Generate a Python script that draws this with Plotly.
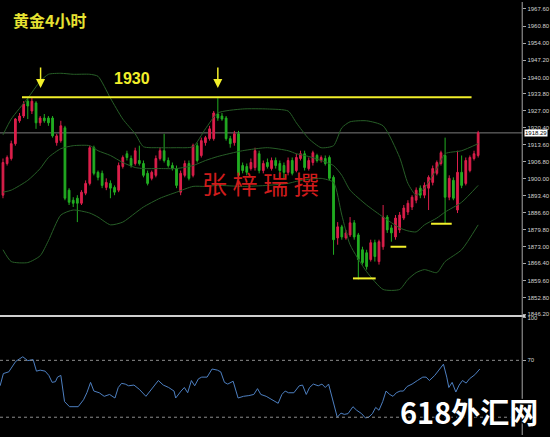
import plotly.graph_objects as go

# ---------------- data ----------------
opens = [1893.5, 1906.1, 1908.1, 1914.0, 1923.1, 1925.0, 1930.9, 1927.0, 1930.2, 1922.3,
         1924.2, 1924.2, 1924.2, 1914.4, 1915.2, 1920.3, 1895.5, 1891.5, 1892.3, 1890.3,
         1894.3, 1898.2, 1912.4, 1902.6, 1902.2, 1896.6, 1898.2, 1896.6, 1895.5, 1904.9,
         1910.0, 1908.1, 1906.1, 1907.3, 1906.1, 1902.2, 1900.2, 1901.4, 1908.1, 1911.2,
         1907.3, 1905.3, 1904.1, 1894.7, 1901.4, 1906.1, 1901.4, 1913.2, 1909.3, 1914.4,
         1916.0, 1916.0, 1925.8, 1925.0, 1924.2, 1916.0, 1914.4, 1917.9, 1905.3, 1904.9,
         1904.1, 1904.5, 1910.0, 1903.3, 1906.5, 1904.1, 1907.3, 1906.1, 1905.3, 1902.6,
         1907.3, 1903.3, 1908.1, 1910.0, 1904.1, 1906.5, 1909.3, 1907.3, 1908.1, 1908.5,
         1900.6, 1876.5, 1880.9, 1876.5, 1877.7, 1882.5, 1877.7, 1871.8, 1870.6, 1867.9,
         1874.6, 1867.1, 1873.0, 1884.8, 1880.5, 1876.9, 1879.7, 1884.4, 1886.8, 1888.8,
         1891.5, 1896.3, 1893.5, 1896.3, 1898.6, 1902.2, 1906.1, 1909.3, 1892.7, 1899.4,
         1887.6, 1902.6, 1898.2, 1903.3, 1908.1, 1909.3]
highs = [1908.1, 1909.3, 1915.2, 1924.2, 1926.2, 1930.9, 1932.1, 1932.1, 1930.9, 1925.0,
         1925.8, 1925.0, 1925.0, 1917.9, 1923.1, 1921.1, 1896.3, 1892.7, 1893.5, 1895.5,
         1899.4, 1913.2, 1913.2, 1903.3, 1903.3, 1900.2, 1899.4, 1897.4, 1906.5, 1909.3,
         1911.2, 1909.3, 1912.4, 1913.2, 1907.3, 1903.3, 1903.3, 1909.3, 1912.4, 1917.9,
         1908.5, 1906.5, 1905.3, 1903.3, 1907.3, 1907.3, 1914.0, 1914.4, 1916.4, 1917.1,
         1921.1, 1927.0, 1932.1, 1926.2, 1925.0, 1917.1, 1919.1, 1919.1, 1906.5, 1906.1,
         1908.1, 1912.4, 1911.2, 1907.3, 1908.1, 1908.5, 1908.5, 1907.3, 1906.5, 1908.5,
         1908.5, 1910.0, 1911.2, 1911.2, 1908.5, 1911.2, 1910.0, 1909.3, 1909.3, 1909.3,
         1901.4, 1882.8, 1881.7, 1879.7, 1884.8, 1883.6, 1878.5, 1873.0, 1871.8, 1875.8,
         1875.8, 1875.8, 1889.6, 1885.6, 1881.7, 1885.6, 1886.8, 1889.6, 1891.5, 1893.5,
         1896.6, 1897.4, 1898.6, 1901.4, 1905.3, 1907.3, 1911.2, 1916.4, 1901.4, 1900.6,
         1911.2, 1909.3, 1908.5, 1909.3, 1911.2, 1919.1]
lows = [1892.3, 1905.3, 1907.3, 1913.2, 1922.3, 1924.2, 1923.8, 1925.8, 1919.9, 1921.1,
        1922.3, 1921.1, 1916.4, 1913.2, 1914.4, 1891.5, 1889.6, 1888.8, 1882.8, 1889.6,
        1893.5, 1897.4, 1901.4, 1899.4, 1896.3, 1895.5, 1892.3, 1893.5, 1894.7, 1904.1,
        1907.3, 1904.5, 1905.3, 1905.3, 1900.6, 1897.4, 1899.4, 1900.6, 1907.3, 1906.5,
        1904.5, 1903.3, 1896.3, 1893.5, 1900.6, 1899.4, 1900.6, 1906.5, 1908.5, 1913.2,
        1915.2, 1915.2, 1923.1, 1923.1, 1915.2, 1912.4, 1913.2, 1900.2, 1902.2, 1901.4,
        1903.3, 1903.3, 1902.2, 1902.2, 1904.1, 1903.3, 1904.1, 1902.2, 1900.2, 1901.4,
        1901.4, 1902.6, 1907.3, 1903.3, 1903.3, 1905.3, 1906.5, 1906.5, 1905.3, 1899.4,
        1869.8, 1873.8, 1875.8, 1875.8, 1876.9, 1875.8, 1860.0, 1865.9, 1863.9, 1867.1,
        1867.1, 1865.9, 1871.8, 1878.5, 1875.0, 1875.8, 1878.5, 1883.6, 1885.6, 1887.6,
        1890.3, 1892.3, 1892.3, 1887.6, 1897.4, 1901.4, 1905.3, 1882.1, 1891.5, 1891.5,
        1886.4, 1896.3, 1897.4, 1902.6, 1907.3, 1908.5]
closes = [1906.5, 1908.5, 1914.0, 1923.8, 1925.0, 1929.8, 1929.0, 1930.9, 1922.3, 1924.2,
          1923.1, 1922.3, 1917.1, 1917.1, 1921.1, 1892.3, 1890.7, 1890.3, 1890.3, 1894.7,
          1898.2, 1912.4, 1902.2, 1900.6, 1897.4, 1898.6, 1896.3, 1894.7, 1905.3, 1908.5,
          1908.5, 1905.3, 1911.2, 1906.1, 1901.4, 1898.2, 1902.6, 1908.1, 1911.2, 1907.3,
          1905.3, 1904.1, 1897.4, 1902.2, 1906.1, 1900.2, 1913.2, 1907.3, 1915.2, 1916.4,
          1919.9, 1926.2, 1924.2, 1923.8, 1916.0, 1914.0, 1917.9, 1901.4, 1903.3, 1902.6,
          1906.5, 1911.2, 1903.3, 1906.1, 1904.9, 1907.3, 1905.3, 1903.3, 1902.6, 1907.3,
          1902.2, 1908.5, 1910.0, 1904.5, 1907.3, 1910.4, 1907.3, 1908.5, 1906.1, 1900.2,
          1875.8, 1880.9, 1876.9, 1878.5, 1882.5, 1876.9, 1867.9, 1866.7, 1865.1, 1874.6,
          1869.1, 1875.0, 1884.8, 1879.7, 1878.5, 1884.4, 1885.6, 1888.4, 1890.3, 1892.7,
          1895.5, 1893.5, 1897.4, 1900.6, 1904.1, 1906.5, 1910.4, 1892.7, 1900.2, 1892.3,
          1902.6, 1897.4, 1907.3, 1908.5, 1910.0, 1918.29]

band_idx = [0, 2, 6, 9, 11, 14, 17, 21, 23, 26, 29, 32, 34, 38, 42, 46, 49, 52, 58, 64,
            69, 71, 74, 77, 80, 82, 84, 88, 92, 96, 98, 100, 102, 105, 107, 111, 115]
band_upper = [1917.5, 1923.8, 1932.1, 1938.8, 1941.6, 1942.0, 1941.6, 1941.6, 1940.8, 1932.1,
              1923.8, 1917.9, 1912.8, 1912.4, 1912.4, 1912.8, 1919.9, 1926.2, 1927.8, 1927.8,
              1927.0, 1922.3, 1916.0, 1912.4, 1913.2, 1920.3, 1922.7, 1923.1, 1921.1, 1908.5,
              1898.2, 1893.5, 1896.3, 1904.1, 1910.0, 1911.2, 1914.0]
band_mid = [1894.7, 1895.5, 1899.4, 1904.1, 1908.5, 1912.0, 1913.2, 1913.2, 1911.2, 1909.3,
            1906.5, 1904.5, 1904.1, 1904.1, 1904.1, 1905.3, 1907.3, 1908.9, 1911.2, 1912.4,
            1911.2, 1910.0, 1908.9, 1907.3, 1905.3, 1901.4, 1895.5, 1889.6, 1884.8, 1880.5,
            1879.3, 1878.9, 1881.7, 1884.4, 1886.8, 1890.7, 1897.4]
band_lower = [1871.8, 1867.1, 1866.7, 1869.4, 1875.4, 1885.6, 1887.6, 1886.4, 1884.8, 1881.7,
              1882.8, 1886.4, 1888.8, 1892.3, 1894.7, 1897.0, 1897.0, 1897.4, 1897.0, 1897.4,
              1898.2, 1899.0, 1899.8, 1900.2, 1898.6, 1885.6, 1873.8, 1863.1, 1856.0, 1856.0,
              1860.0, 1862.7, 1863.9, 1862.7, 1867.1, 1871.8, 1881.7]

rsi_idx = [-0.7, 0.1, 1.4, 3.1, 4.8, 6.0, 7.3, 8.1, 9.0, 10.2,
           11.1, 11.9, 12.7, 13.2, 14.0, 14.9, 16.1, 17.4, 18.2, 19.5,
           20.3, 21.2, 22.0, 23.3, 24.5, 25.8, 27.1, 27.9, 28.7, 29.6,
           30.4, 31.7, 33.0, 34.6, 36.3, 37.6, 38.8, 40.1, 41.4, 41.8,
           43.1, 43.9, 44.7, 45.6, 46.4, 47.3, 48.1, 49.4, 50.6, 51.9,
           52.7, 53.6, 54.4, 55.7, 56.9, 58.2, 59.5, 60.7, 61.6, 62.4,
           63.7, 64.5, 65.8, 66.6, 67.5, 68.3, 69.1, 70.4, 71.7, 72.5,
           73.4, 74.2, 75.1, 76.3, 77.2, 78.0, 78.8, 80.1, 80.9, 81.8,
           82.6, 83.5, 84.7, 85.6, 86.8, 87.7, 88.5, 89.4, 90.2, 91.0,
           91.9, 92.7, 93.6, 94.4, 95.2, 96.1, 96.9, 97.8, 99.0, 100.3,
           101.6, 102.4, 103.2, 104.5, 105.5, 106.6, 107.4, 107.9, 108.7, 109.6,
           110.4, 111.2, 112.1, 112.9, 114.2, 115.4]
rsi_val = [52.1, 60.7, 61.9, 69.3, 72.5, 69.8, 70.5, 62.4, 63.1, 62.4,
           59.4, 54.5, 55.0, 58.2, 59.4, 41.0, 37.4, 37.4, 37.4, 42.3,
           47.2, 54.5, 48.4, 47.2, 44.7, 46.0, 43.5, 50.9, 53.8, 53.3,
           52.1, 52.6, 49.6, 44.7, 50.9, 55.8, 52.6, 50.9, 48.4, 43.5,
           48.4, 50.9, 47.2, 55.8, 52.1, 57.0, 58.2, 58.2, 63.9, 63.1,
           61.9, 54.5, 53.3, 55.3, 43.5, 44.7, 45.2, 46.0, 50.1, 46.0,
           44.7, 43.5, 41.0, 39.8, 46.0, 48.4, 47.2, 47.2, 52.1, 52.6,
           46.0, 50.9, 53.3, 52.1, 53.3, 50.9, 53.3, 39.8, 30.0, 32.9,
           32.0, 32.5, 37.4, 34.9, 32.5, 29.5, 30.0, 32.5, 36.9, 34.9,
           41.0, 48.4, 46.0, 44.7, 47.2, 48.4, 48.4, 51.6, 53.3, 55.8,
           58.2, 58.2, 55.8, 59.4, 63.1, 67.3, 58.2, 50.9, 54.5, 47.7,
           52.6, 55.8, 54.0, 57.0, 59.9, 63.9]

price_ticks = [1967.60, 1960.80, 1954.00, 1947.20, 1940.00, 1933.80, 1927.00, 1920.40,
               1913.60, 1906.80, 1900.00, 1893.40, 1886.60, 1879.80, 1873.00, 1866.40,
               1859.60, 1852.80, 1846.20]
rsi_ticks = [100, 70]
rsi_levels = [70, 30]

last_price = 1918.29
resistance = 1932.5          # the "1930" line
resistance_span = [4.6, 113.4]
support_levels = [1860.4, 1873.0, 1882.1]
support_spans = [[84.7, 90.2], [93.8, 97.6], [103.6, 108.6]]
arrow_idx = [9.1, 52.0]
arrow_tip = 1936.1

RED = "#dc1f4b"
GREEN = "#22ad22"
BAND = "#275e27"
YELLOW = "#f2ef2a"
AXIS = "#a6a6a6"
XR = [-0.72, 125.66]
PX = 527 / 550          # right edge of the chart area (axis line) in paper units

x = list(range(len(closes)))

fig = go.Figure()
for band in (band_upper, band_mid, band_lower):
    fig.add_trace(go.Scatter(x=band_idx, y=band, mode="lines",
                             line=dict(color=BAND, width=1, shape="spline", smoothing=0.6),
                             hoverinfo="skip", showlegend=False, xaxis="x", yaxis="y"))

fig.add_trace(go.Candlestick(
    x=x, open=opens, high=highs, low=lows, close=closes,
    increasing=dict(line=dict(color=RED, width=1), fillcolor=RED),
    decreasing=dict(line=dict(color=GREEN, width=1), fillcolor=GREEN),
    whiskerwidth=0, hoverinfo="skip", showlegend=False, xaxis="x", yaxis="y"))

fig.add_trace(go.Scatter(x=rsi_idx, y=rsi_val, mode="lines",
                         line=dict(color="#4d7fc0", width=1),
                         hoverinfo="skip", showlegend=False, xaxis="x2", yaxis="y2"))

shapes = []
shapes.append(dict(type="line", xref="paper", yref="y", x0=0, x1=PX, y0=last_price, y1=last_price,
                   line=dict(color="#7c7c7c", width=1), layer="below"))
shapes.append(dict(type="line", xref="x", yref="y", x0=resistance_span[0], x1=resistance_span[1],
                   y0=resistance, y1=resistance, line=dict(color=YELLOW, width=2)))
for lvl, sp in zip(support_levels, support_spans):
    shapes.append(dict(type="line", xref="x", yref="y", x0=sp[0], x1=sp[1], y0=lvl, y1=lvl,
                       line=dict(color=YELLOW, width=2)))
for lv in rsi_levels:
    shapes.append(dict(type="line", xref="paper", yref="y2", x0=0, x1=PX, y0=lv, y1=lv,
                       line=dict(color="#8c8c8c", width=1, dash="dot")))
shapes.append(dict(type="line", xref="paper", yref="paper", x0=0, x1=PX + 0.006, y0=0.2746, y1=0.2746,
                   line=dict(color="#cfcfcf", width=2)))
shapes.append(dict(type="line", xref="paper", yref="paper", x0=PX, x1=PX, y0=0, y1=1,
                   line=dict(color=AXIS, width=1)))

annotations = []
annotations.append(dict(text="黄金4小时", xref="paper", yref="paper", x=11 / 550, y=0.958,
                        xanchor="left", yanchor="middle", showarrow=False,
                        font=dict(family="Noto Sans CJK SC", size=16, color="#e6e232", weight="bold")))
annotations.append(dict(text="1930", xref="x", yref="y", x=31.2, y=1940.0,
                        xanchor="center", yanchor="middle", showarrow=False,
                        font=dict(family="Liberation Sans", size=16, color=YELLOW, weight="bold")))
for ai in arrow_idx:
    annotations.append(dict(text="", xref="x", yref="y", x=ai, y=arrow_tip, ax=0, ay=-22,
                            showarrow=True, arrowhead=2, arrowsize=1.2, arrowwidth=1.5,
                            arrowcolor=YELLOW))
annotations.append(dict(text="张 梓 瑞 撰", xref="x", yref="y", x=62.4, y=1898.2,
                        xanchor="center", yanchor="middle", showarrow=False,
                        font=dict(family="Noto Sans CJK SC", size=25, color="#d01c1c")))
annotations.append(dict(text="1918.29", xref="paper", yref="y", x=PX + 0.004, y=last_price,
                        xanchor="left", yanchor="middle", showarrow=False, bgcolor="#ffffff",
                        borderpad=0, font=dict(family="Liberation Sans", size=6, color="#000000")))
annotations.append(dict(text="618外汇网", xref="paper", yref="paper", x=545 / 550, y=0.056,
                        xanchor="right", yanchor="middle", showarrow=False,
                        font=dict(family="Noto Sans CJK SC", size=29, color="#ffffff", weight="bold",
                                  shadow="1px 1px 1px #000, -1px -1px 1px #000, 1px -1px 1px #000, -1px 1px 1px #000")))

fig.update_layout(
    width=550, height=437,
    margin=dict(l=0, r=0, t=0, b=0),
    paper_bgcolor="#000000", plot_bgcolor="#000000",
    showlegend=False, boxgap=0.4,
    shapes=shapes, annotations=annotations,
    xaxis=dict(domain=[0, PX], range=XR, visible=False, anchor="y",
               rangeslider=dict(visible=False)),
    xaxis2=dict(domain=[0, PX], range=XR, visible=False, anchor="y2"),
    yaxis=dict(domain=[0.2769, 1], range=[1845.8, 1970.36], side="right",
               anchor="free", position=PX,
               tickvals=price_ticks, ticktext=[f"{v:.2f}" for v in price_ticks],
               showgrid=False, zeroline=False, showline=False,
               ticks="outside", ticklen=3, tickcolor=AXIS,
               tickfont=dict(family="Liberation Sans", size=6, color="#d2d2d2")),
    yaxis2=dict(domain=[0, 0.2723], range=[17.5, 100.4], side="right",
                anchor="free", position=PX,
                tickvals=rsi_ticks, ticktext=[str(v) for v in rsi_ticks],
                showgrid=False, zeroline=False, showline=False,
                ticks="outside", ticklen=3, tickcolor=AXIS,
                tickfont=dict(family="Liberation Sans", size=6, color="#d2d2d2")),
)

fig.write_html("out.html", config={"displayModeBar": False},
               post_script="document.body.style.margin='0';document.body.style.background='#000';")
